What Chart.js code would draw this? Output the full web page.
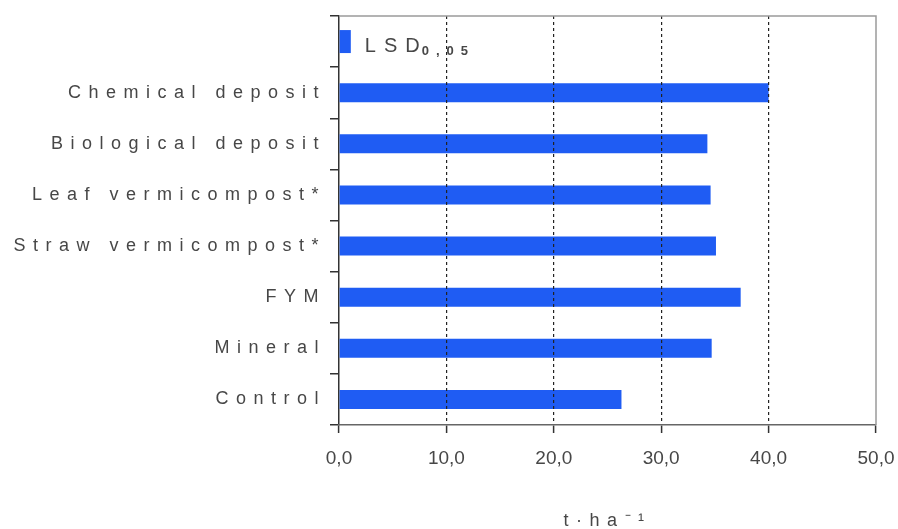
<!DOCTYPE html>
<html>
<head>
<meta charset="utf-8">
<script src="https://cdn.jsdelivr.net/npm/chart.js@4.4.1/dist/chart.umd.min.js"></script>
<style>
  body { margin: 0; background: #fff; }
  canvas { display: block; }
</style>
</head>
<body>
<canvas id="viz" width="898" height="529"></canvas>
<script>
// top row is the LSD bar, the rest are the treatments
var categories = ['LSD', 'Chemical deposit', 'Biological deposit', 'Leaf vermicompost*', 'Straw vermicompost*', 'FYM', 'Mineral', 'Control'];
var lsdValues = [1.1, null, null, null, null, null, null, null];
var yieldValues = [null, 40.0, 34.3, 34.6, 35.1, 37.4, 34.7, 26.3];
var lsdLabel = 'LSD';
var lsdSub = '0,05';
var axisTitle = 't·ha⁻¹';

var barColor = '#1f5cf3';
var textColor = '#474747';
var font = 'Arial, "Liberation Sans", sans-serif';

var extras = {
  id: 'extras',
  beforeDraw: function (chart) {
    chart.ctx.letterSpacing = '0px';
  },
  afterDatasetsDraw: function (chart) {
    // y labels and the x title are drawn after the bars, spaced out
    chart.ctx.letterSpacing = '7.5px';
  },
  afterDraw: function (chart) {
    var ctx = chart.ctx;
    var xs = chart.scales.x;
    var ys = chart.scales.y;
    ctx.save();
    ctx.strokeStyle = '#9a9a9a';
    ctx.lineWidth = 1.5;
    ctx.beginPath();
    ctx.moveTo(xs.left, ys.top);
    ctx.lineTo(xs.right, ys.top);
    ctx.lineTo(xs.right, ys.bottom);
    ctx.stroke();

    var x = xs.getPixelForValue(lsdValues[0]) + 14;
    var y = ys.getPixelForValue(0) + 10;
    ctx.fillStyle = textColor;
    ctx.textBaseline = 'alphabetic';
    ctx.textAlign = 'left';
    ctx.letterSpacing = '8px';
    ctx.font = '20px ' + font;
    ctx.fillText(lsdLabel, x, y);
    var w = ctx.measureText(lsdLabel).width;
    ctx.letterSpacing = '7px';
    ctx.font = 'bold 13px ' + font;
    ctx.fillText(lsdSub, x + w - 6, y + 3);
    ctx.restore();
    ctx.letterSpacing = '0px';
  }
};

var chart = new Chart(document.getElementById('viz').getContext('2d'), {
  type: 'bar',
  data: {
    labels: categories,
    datasets: [
      {
        data: lsdValues,
        backgroundColor: barColor,
        barPercentage: 0.45,
        categoryPercentage: 1,
        grouped: false,
      },
      {
        data: yieldValues,
        backgroundColor: barColor,
        barPercentage: 0.37,
        categoryPercentage: 1,
        grouped: false,
      },
    ],
  },
  options: {
    indexAxis: 'y',
    responsive: false,
    animation: false,
    layout: { padding: { top: 16, right: 22, left: 0, bottom: 0 } },
    plugins: { legend: { display: false }, tooltip: { enabled: false } },
    scales: {
      x: {
        min: 0,
        max: 50,
        afterFit: function (s) {
          s.height = 104;
          s.paddingLeft = 0;
          s.paddingRight = 0;
        },
        ticks: {
          stepSize: 10,
          z: 0,
          padding: 14,
          color: textColor,
          font: { family: font, size: 19 },
          callback: function (v) { return v.toFixed(1).replace('.', ','); },
        },
        grid: {
          z: 1,
          lineWidth: 1.2,
          tickLength: 8,
          tickColor: '#333',
          tickWidth: 1.5,
          color: function (c) {
            if (!c.tick || c.tick.value === 0 || c.tick.value === 50) return 'rgba(0,0,0,0)';
            return '#222';
          },
        },
        border: { z: 1, color: '#666', width: 1.5, dash: [3, 3] },
        title: {
          display: true,
          text: axisTitle,
          color: textColor,
          font: { family: font, size: 18, lineHeight: 0.85 },
          padding: { top: 0, bottom: 0 },
        },
      },
      y: {
        afterFit: function (s) {
          s.width = 339;
          s.paddingTop = 0;
          s.paddingBottom = 0;
        },
        ticks: {
          z: 1,
          padding: 4,
          color: textColor,
          font: { family: font, size: 18 },
          callback: function (v, i) { return i === 0 ? '' : categories[i]; },
        },
        grid: {
          drawOnChartArea: false,
          tickLength: 9,
          color: '#333',
          lineWidth: 1.5,
        },
        border: { color: '#333', width: 1.5 },
      },
    },
  },
  plugins: [extras],
});
</script>
</body>
</html>
